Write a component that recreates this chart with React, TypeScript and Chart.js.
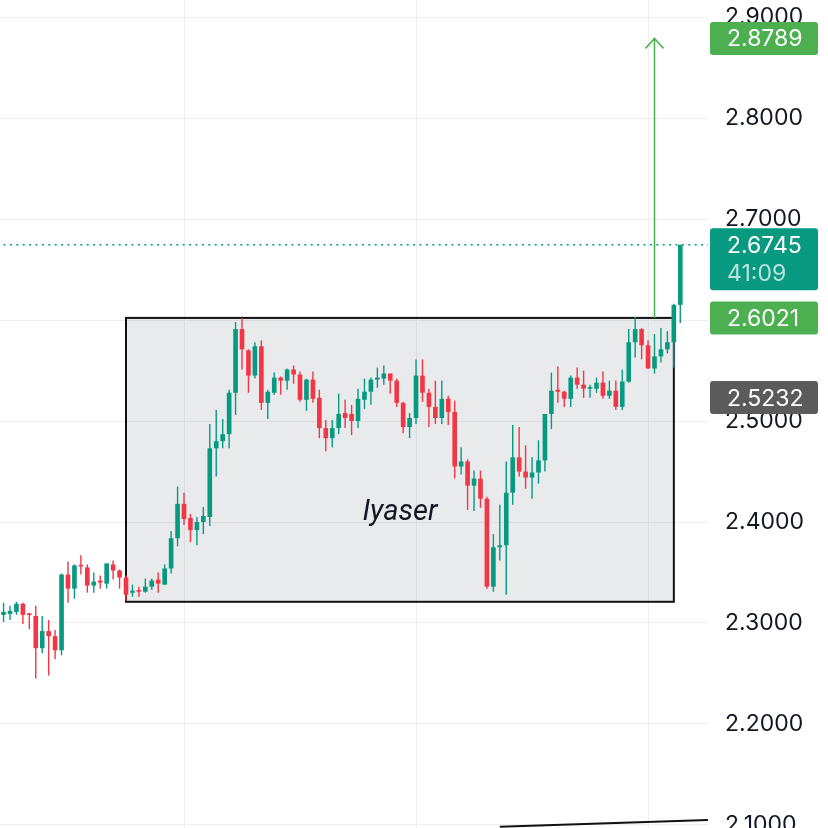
import React, { useEffect, useRef } from "react";
import { Chart, registerables } from "chart.js";

Chart.register(...registerables);

// ---- candle data (index = bar number) ----
const openPrices = [
  2.308, 2.309, 2.311, 2.319, 2.309, 2.307, 2.275, 2.292, 2.287, 2.273,
  2.348, 2.334, 2.357, 2.355, 2.337, 2.342, 2.339, 2.358, 2.352, 2.345,
  2.330, 2.332, 2.331, 2.336, 2.343, 2.338, 2.354, 2.384, 2.418, 2.404,
  2.392, 2.400, 2.405, 2.473, 2.480, 2.487, 2.528, 2.591, 2.570, 2.545,
  2.574, 2.518, 2.528, 2.543, 2.540, 2.551, 2.546, 2.521, 2.541, 2.523,
  2.493, 2.483, 2.493, 2.508, 2.507, 2.500, 2.521, 2.529, 2.541, 2.542,
  2.547, 2.540, 2.518, 2.494, 2.503, 2.545, 2.528, 2.514, 2.503, 2.522,
  2.509, 2.455, 2.460, 2.436, 2.443, 2.423, 2.336, 2.375, 2.377, 2.429,
  2.464, 2.450, 2.444, 2.449, 2.461, 2.507, 2.531, 2.529, 2.522, 2.543,
  2.536, 2.532, 2.532, 2.538, 2.525, 2.530, 2.514, 2.539, 2.578, 2.591,
  2.575, 2.552, 2.564, 2.571, 2.578, 2.615,
];
const highPrices = [
  2.320, 2.317, 2.321, 2.320, 2.310, 2.317, 2.307, 2.303, 2.293, 2.349,
  2.361, 2.358, 2.367, 2.358, 2.350, 2.347, 2.359, 2.362, 2.353, 2.347,
  2.338, 2.336, 2.344, 2.344, 2.350, 2.358, 2.391, 2.435, 2.429, 2.408,
  2.405, 2.415, 2.497, 2.511, 2.502, 2.531, 2.598, 2.602, 2.571, 2.578,
  2.580, 2.531, 2.548, 2.544, 2.552, 2.555, 2.549, 2.542, 2.549, 2.531,
  2.501, 2.501, 2.527, 2.521, 2.516, 2.532, 2.542, 2.543, 2.553, 2.555,
  2.547, 2.542, 2.519, 2.508, 2.561, 2.561, 2.532, 2.540, 2.540, 2.525,
  2.520, 2.474, 2.462, 2.451, 2.451, 2.425, 2.388, 2.417, 2.460, 2.496,
  2.494, 2.476, 2.464, 2.481, 2.507, 2.548, 2.554, 2.530, 2.545, 2.553,
  2.550, 2.536, 2.543, 2.549, 2.540, 2.540, 2.551, 2.591, 2.603, 2.592,
  2.580, 2.586, 2.592, 2.589, 2.616, 2.6745,
];
const lowPrices = [
  2.301, 2.303, 2.308, 2.299, 2.294, 2.245, 2.270, 2.248, 2.264, 2.268,
  2.320, 2.324, 2.348, 2.330, 2.330, 2.334, 2.334, 2.343, 2.334, 2.322,
  2.326, 2.326, 2.330, 2.333, 2.330, 2.338, 2.349, 2.376, 2.397, 2.380,
  2.377, 2.388, 2.396, 2.445, 2.473, 2.473, 2.506, 2.551, 2.528, 2.542,
  2.511, 2.502, 2.526, 2.526, 2.531, 2.537, 2.519, 2.510, 2.518, 2.483,
  2.470, 2.474, 2.487, 2.493, 2.486, 2.493, 2.512, 2.516, 2.533, 2.536,
  2.527, 2.514, 2.488, 2.483, 2.497, 2.519, 2.494, 2.497, 2.497, 2.496,
  2.443, 2.447, 2.412, 2.411, 2.414, 2.334, 2.331, 2.362, 2.328, 2.417,
  2.445, 2.433, 2.423, 2.438, 2.450, 2.492, 2.518, 2.514, 2.514, 2.532,
  2.523, 2.523, 2.528, 2.522, 2.522, 2.511, 2.511, 2.538, 2.563, 2.561,
  2.552, 2.547, 2.558, 2.567, 2.553, 2.597,
];
const closePrices = [
  2.311, 2.312, 2.319, 2.308, 2.308, 2.275, 2.292, 2.287, 2.273, 2.348,
  2.334, 2.357, 2.356, 2.337, 2.341, 2.340, 2.359, 2.352, 2.345, 2.328,
  2.332, 2.331, 2.336, 2.342, 2.339, 2.354, 2.384, 2.418, 2.403, 2.392,
  2.400, 2.406, 2.473, 2.480, 2.487, 2.528, 2.591, 2.571, 2.545, 2.574,
  2.518, 2.529, 2.543, 2.540, 2.551, 2.546, 2.521, 2.541, 2.522, 2.493,
  2.483, 2.493, 2.507, 2.503, 2.500, 2.522, 2.529, 2.541, 2.543, 2.547,
  2.540, 2.518, 2.494, 2.503, 2.545, 2.528, 2.514, 2.503, 2.522, 2.509,
  2.455, 2.460, 2.436, 2.443, 2.423, 2.336, 2.375, 2.377, 2.429, 2.464,
  2.450, 2.444, 2.449, 2.461, 2.507, 2.530, 2.529, 2.522, 2.543, 2.536,
  2.532, 2.533, 2.538, 2.525, 2.530, 2.514, 2.539, 2.578, 2.591, 2.575,
  2.552, 2.564, 2.571, 2.578, 2.615, 2.6745,
];

// ---- axis ----
const priceTicks = [2.1, 2.2, 2.3, 2.4, 2.5, 2.6, 2.7, 2.8, 2.9];
const timeGridIdx = [28, 64, 100];
const priceRange = [2.097, 2.9169];
const idxRange = [-0.55, 109.3];

// ---- drawings ----
const rangeBoxIdx = [19, 104];
const rangeBoxPrices = [2.321, 2.6021];
const rangeLabel = "Iyaser";
const rangeLabelPos = [61.5, 2.409];
const arrowIdx = 101;
const arrowPrices = [2.6021, 2.8789];
const trendIdx = [77, 109.3];
const trendPrices = [2.0982, 2.105];
const lastPrice = 2.6745;
const lastLineIdx = [-1, 110];
const countdown = "41:09";
const tagPrices = [2.8789, 2.6745, 2.6021, 2.5232];
const tagColors = ["#4caf50", "#089981", "#4caf50", "#5b5b5b"];

const UP = "#089981";
const DOWN = "#f23645";
const GRID = "#efeff1";
const FONT = "Inter, 'Noto Sans', sans-serif";

const candleColor = (i: number) => (closePrices[i] >= openPrices[i] ? UP : DOWN);

const drawingsPlugin = {
  id: "drawings",
  beforeDatasetsDraw(chart: any) {
    const { ctx, scales } = chart;
    const x = scales.x, y = scales.y;
    const x1 = x.getPixelForValue(rangeBoxIdx[0]);
    const x2 = x.getPixelForValue(rangeBoxIdx[1]);
    const y1 = y.getPixelForValue(rangeBoxPrices[1]);
    const y2 = y.getPixelForValue(rangeBoxPrices[0]);
    ctx.save();
    ctx.fillStyle = "rgba(120,123,134,0.16)";
    ctx.fillRect(x1, y1, x2 - x1, y2 - y1);
    ctx.strokeStyle = "#111111";
    ctx.lineWidth = 2;
    ctx.strokeRect(x1, y1, x2 - x1, y2 - y1);
    ctx.restore();
  },
  afterDraw(chart: any) {
    const { ctx, scales } = chart;
    const x = scales.x, y = scales.y;
    ctx.save();
    // arrow
    const ax = x.getPixelForValue(arrowIdx);
    const ay1 = y.getPixelForValue(arrowPrices[0]);
    const ay2 = y.getPixelForValue(arrowPrices[1]);
    ctx.strokeStyle = "#4caf50";
    ctx.lineWidth = 1.5;
    ctx.beginPath();
    ctx.moveTo(ax, ay1);
    ctx.lineTo(ax, ay2);
    ctx.moveTo(ax - 9, ay2 + 10);
    ctx.lineTo(ax, ay2);
    ctx.lineTo(ax + 9, ay2 + 10);
    ctx.stroke();
    // label
    ctx.fillStyle = "#131722";
    ctx.font = "italic 29px Roboto, " + FONT;
    ctx.textAlign = "center";
    ctx.textBaseline = "middle";
    ctx.fillText(rangeLabel, x.getPixelForValue(rangeLabelPos[0]), y.getPixelForValue(rangeLabelPos[1]));
    // price tags
    const left = chart.chartArea.right + 2;
    const w = 108;
    ctx.textAlign = "left";
    ctx.font = "23px " + FONT;
    tagPrices.forEach((p, k) => {
      const py = y.getPixelForValue(p);
      const top = py - 16.5;
      const h = k === 1 ? 62 : 33;
      ctx.fillStyle = tagColors[k];
      ctx.beginPath();
      (ctx as any).roundRect(left, top, w, h, 3);
      ctx.fill();
      ctx.fillStyle = "#ffffff";
      ctx.fillText(p.toFixed(4), left + 17, py + 1);
      if (k === 1) {
        ctx.fillStyle = "rgba(255,255,255,0.72)";
        ctx.fillText(countdown, left + 17, py + 29);
      }
    });
    ctx.restore();
  },
};

export default function App() {
  const ref = useRef<HTMLCanvasElement | null>(null);

  useEffect(() => {
    if (!ref.current) return;
    const idx = openPrices.map((_, i) => i);
    const chart = new Chart(ref.current, {
      type: "bar",
      data: {
        datasets: [
          {
            type: "line",
            data: trendIdx.map((v, k) => ({ x: v, y: trendPrices[k] })),
            borderColor: "#111111",
            borderWidth: 2,
            pointRadius: 0,
            order: 0,
          } as any,
          {
            type: "line",
            data: lastLineIdx.map((v) => ({ x: v, y: lastPrice })),
            borderColor: UP,
            borderWidth: 1.5,
            borderDash: [2, 4.4],
            pointRadius: 0,
            order: 3,
          } as any,
          {
            label: "wick",
            data: idx.map((i) => ({ x: i, y: [lowPrices[i], highPrices[i]] })),
            backgroundColor: idx.map(candleColor),
            grouped: false,
            maxBarThickness: 1.4,
            minBarLength: 1,
            order: 2,
          } as any,
          {
            label: "body",
            data: idx.map((i) => ({ x: i, y: [openPrices[i], closePrices[i]] })),
            backgroundColor: idx.map(candleColor),
            grouped: false,
            maxBarThickness: 5,
            minBarLength: 1.6,
            order: 1,
          } as any,
        ],
      },
      options: {
        animation: false,
        responsive: true,
        maintainAspectRatio: false,
        layout: { padding: 0 },
        plugins: { legend: { display: false }, tooltip: { enabled: false }, title: { display: false } },
        scales: {
          x: {
            type: "linear",
            min: idxRange[0],
            max: idxRange[1],
            offset: false,
            ticks: { display: false },
            grid: { color: GRID, lineWidth: 1, drawTicks: false, offset: false },
            border: { display: false },
            afterBuildTicks: (s: any) => {
              s.ticks = timeGridIdx.map((v) => ({ value: v }));
            },
            afterFit: (s: any) => {
              s.height = 0;
              s.paddingLeft = 0;
              s.paddingRight = 0;
            },
          },
          y: {
            type: "linear",
            position: "right",
            min: priceRange[0],
            max: priceRange[1],
            beginAtZero: false,
            grid: { color: GRID, lineWidth: 1, drawTicks: false },
            border: { display: false },
            ticks: {
              color: "#131722",
              padding: 17,
              font: { family: FONT, size: 23 },
              callback: (v: any) => Number(v).toFixed(4),
            },
            afterBuildTicks: (s: any) => {
              s.ticks = priceTicks.map((v) => ({ value: v }));
            },
            afterFit: (s: any) => {
              s.width = 120;
              s.paddingTop = 0;
              s.paddingBottom = 0;
            },
          },
        },
      } as any,
      plugins: [drawingsPlugin],
    });
    return () => chart.destroy();
  }, []);

  return (
    <div style={{ position: "fixed", left: 0, top: 0, width: 828, height: 828, background: "#ffffff" }}>
      <canvas ref={ref} />
    </div>
  );
}
